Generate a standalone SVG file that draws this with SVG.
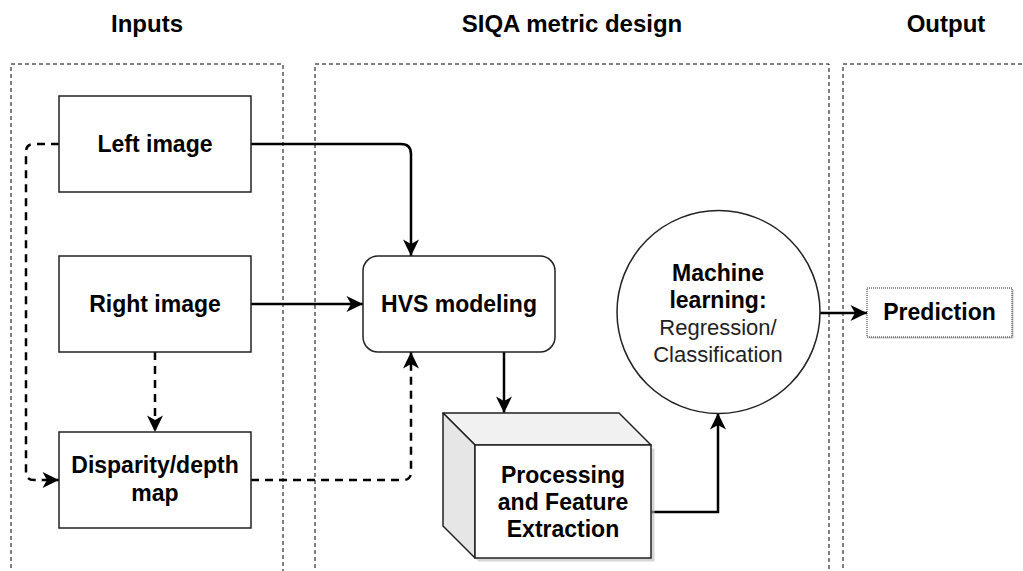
<svg xmlns="http://www.w3.org/2000/svg" width="1023" height="571" viewBox="0 0 1023 571">
  <style>
    .title { font-family: "Liberation Sans", Arial, sans-serif; font-size: 24px; font-weight: bold; fill: #000; text-anchor: middle; }
    .lbl { font-family: "Liberation Sans", Arial, sans-serif; font-size: 23px; font-weight: bold; fill: #000; text-anchor: middle; }
    .lblr { font-family: "Liberation Sans", Arial, sans-serif; font-size: 22px; font-weight: normal; fill: #222; text-anchor: middle; }
    .lane { fill: none; stroke: #000; stroke-width: 1; stroke-dasharray: 4 3; }
    .box { fill: #fff; stroke: #222; stroke-width: 1.5; }
    .edge { fill: none; stroke: #000; stroke-width: 2.5; }
    .dash { stroke-dasharray: 8 6; }
  </style>
  <defs>
    <marker id="arrow" markerUnits="userSpaceOnUse" markerWidth="18" markerHeight="18" refX="17" refY="9" orient="auto">
      <path d="M0.5,1 L17,9 L0.5,17 L5,9 Z" fill="#000"/>
    </marker>
  </defs>

  <rect width="1023" height="571" fill="#fff"/>

  <!-- lane headings and borders -->
  <g id="lanes">
    <text class="title" x="147" y="32">Inputs</text>
    <text class="title" x="572" y="32">SIQA metric design</text>
    <text class="title" x="946" y="32">Output</text>
    <path class="lane" d="M11,575 V64 H283 V575"/>
    <path class="lane" d="M315,575 V64 H829 V575"/>
    <path class="lane" d="M843,575 V64 H1030"/>
  </g>

  <!-- connectors -->
  <g id="connectors">
    <path class="edge" d="M251,144 H401 Q411,144 411,154 V256" marker-end="url(#arrow)"/>
    <path class="edge" d="M251,304 H363" marker-end="url(#arrow)"/>
    <path class="edge dash" d="M155,352 V432" marker-end="url(#arrow)"/>
    <path class="edge dash" d="M59,144 H34 Q26,144 26,152 V472 Q26,480 34,480 H59" marker-end="url(#arrow)"/>
    <path class="edge dash" d="M251,480 H403 Q411,480 411,472 V352" marker-end="url(#arrow)"/>
    <path class="edge" d="M504,352 V413" marker-end="url(#arrow)"/>
    <path class="edge" d="M651,512 H718 V413" marker-end="url(#arrow)"/>
    <path class="edge" d="M820,313 H867" marker-end="url(#arrow)"/>
  </g>

  <g id="left-image">
    <rect class="box" x="59" y="96" width="192" height="96"/>
    <text class="lbl" x="155" y="152">Left image</text>
  </g>

  <g id="right-image">
    <rect class="box" x="59" y="256" width="192" height="96"/>
    <text class="lbl" x="155" y="312">Right image</text>
  </g>

  <g id="disparity-map">
    <rect class="box" x="59" y="432" width="192" height="96"/>
    <text class="lbl" x="155" y="473">Disparity/depth</text>
    <text class="lbl" x="155" y="501">map</text>
  </g>

  <g id="hvs-modeling">
    <rect class="box" x="363" y="256" width="192" height="96" rx="15" ry="15"/>
    <text class="lbl" x="459" y="312">HVS modeling</text>
  </g>

  <g id="feature-extraction">
    <!-- soft drop shadow under the cube -->
    <path d="M445,415 L477,447 H653 V560 H477 L445,528 Z" fill="#bbb" opacity="0.6" transform="translate(1.5,1.5)"/>
    <path d="M443,413 H619 L651,445 H475 Z" fill="#f1f1f1" stroke="#222" stroke-width="1.5" stroke-linejoin="round"/>
    <path d="M443,413 L475,445 V558 L443,526 Z" fill="#e6e6e6" stroke="#222" stroke-width="1.5" stroke-linejoin="round"/>
    <rect class="box" x="475" y="445" width="176" height="113"/>
    <text class="lbl" x="563" y="483">Processing</text>
    <text class="lbl" x="563" y="510">and Feature</text>
    <text class="lbl" x="563" y="537">Extraction</text>
  </g>

  <g id="machine-learning">
    <circle class="box" cx="718.5" cy="312" r="101.5"/>
    <text class="lbl" x="718" y="281">Machine</text>
    <text class="lbl" x="718" y="308">learning:</text>
    <text class="lblr" x="718" y="335">Regression/</text>
    <text class="lblr" x="718" y="362">Classification</text>
  </g>

  <g id="prediction">
    <rect x="868.5" y="289.5" width="145" height="49" fill="#c8c8c8"/>
    <rect x="867" y="288" width="145" height="49" fill="#fff" stroke="#222" stroke-width="1" stroke-dasharray="1 1"/>
    <text class="lbl" x="939.5" y="320">Prediction</text>
  </g>
</svg>
